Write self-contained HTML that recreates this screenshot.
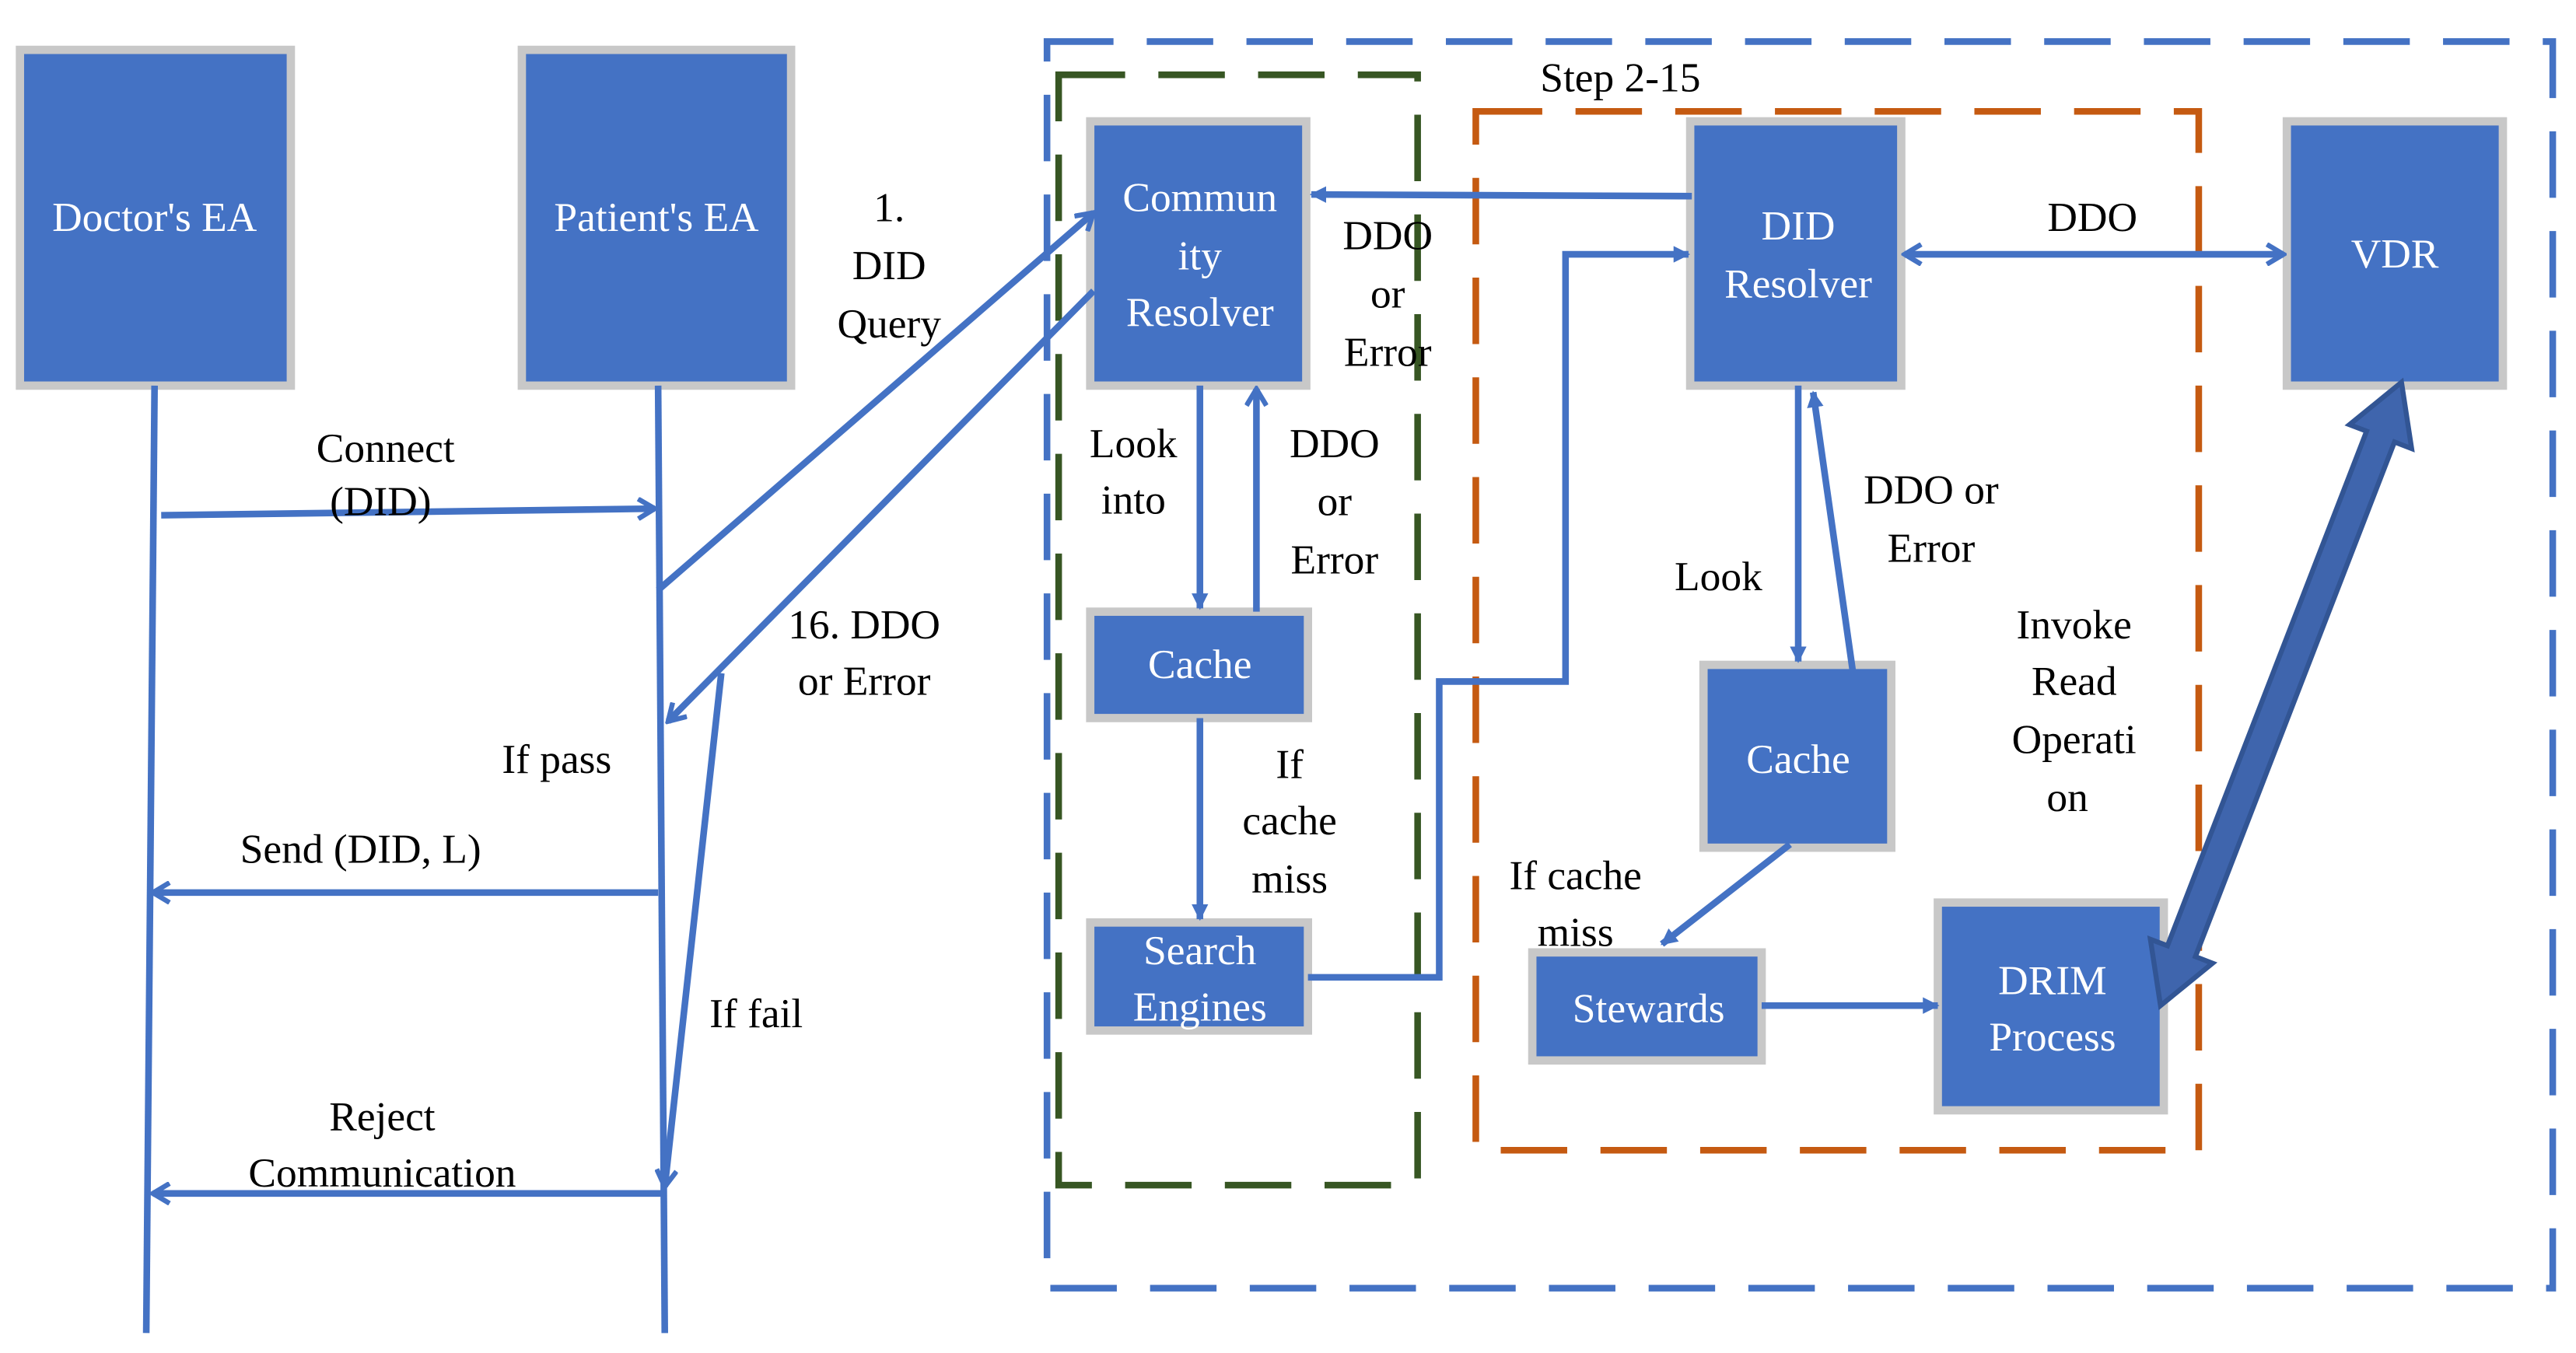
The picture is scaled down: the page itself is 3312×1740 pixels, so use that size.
<!DOCTYPE html>
<html><head><meta charset="utf-8"><style>
html,body{margin:0;padding:0;background:#fff;}
svg{display:block;}
text{font-family:"Liberation Serif","Times New Roman","DejaVu Serif",serif;font-size:25px;}
.w{fill:#fff;text-anchor:middle;}
.k{fill:#000;text-anchor:middle;}
</style></head><body>
<svg width="3312" height="1740" viewBox="0 0 1550 814" preserveAspectRatio="none" xmlns="http://www.w3.org/2000/svg">
<defs>
<marker id="tri" markerWidth="10" markerHeight="10" refX="9" refY="5" orient="auto" markerUnits="userSpaceOnUse" viewBox="0 0 10 10"><path d="M0,0 L10,5 L0,10 z" fill="#4472C4"/></marker>
<marker id="chev" markerWidth="14" markerHeight="14" refX="12" refY="7" orient="auto-start-reverse" markerUnits="userSpaceOnUse" viewBox="0 0 14 14"><path d="M2,1 L12,7 L2,13" fill="none" stroke="#4472C4" stroke-width="3"/></marker>
</defs>
<g stroke-width="4" fill="none" stroke-dasharray="40,20">
<rect x="630" y="25" width="906" height="750" stroke="#4472C4"/>
<rect x="637" y="45" width="216" height="668" stroke="#375623"/>
<rect x="888" y="67" width="435" height="625" stroke="#C55A11"/>
</g>
<g fill="#4472C4" stroke="#C8C8C8" stroke-width="5">
<rect x="12" y="30" width="163" height="202"/>
<rect x="314" y="30" width="162" height="202"/>
<rect x="656" y="73" width="130" height="159"/>
<rect x="656" y="368" width="131" height="64"/>
<rect x="656" y="555" width="131" height="65"/>
<rect x="1017" y="73" width="127" height="159"/>
<rect x="1376" y="73" width="130" height="159"/>
<rect x="1025" y="400" width="113" height="110"/>
<rect x="922" y="573" width="138" height="65"/>
<rect x="1166" y="543" width="136" height="125"/>
</g>
<g stroke="#4472C4" stroke-width="4" fill="none">
<line x1="93" y1="232" x2="88" y2="802"/>
<line x1="396" y1="232" x2="400" y2="802"/>
<line x1="97" y1="310" x2="394" y2="306" marker-end="url(#chev)"/>
<line x1="396" y1="355" x2="658" y2="128" marker-end="url(#chev)"/>
<line x1="658" y1="175" x2="402" y2="434" marker-end="url(#chev)"/>
<line x1="434" y1="405" x2="400" y2="714" marker-end="url(#chev)"/>
<line x1="396" y1="537" x2="92" y2="537" marker-end="url(#chev)"/>
<line x1="400" y1="718" x2="92" y2="718" marker-end="url(#chev)"/>
<line x1="722" y1="232" x2="722" y2="366" marker-end="url(#tri)"/>
<line x1="756" y1="368" x2="756" y2="234" marker-end="url(#chev)"/>
<line x1="722" y1="432" x2="722" y2="553" marker-end="url(#tri)"/>
<polyline points="787,588 866,588 866,410 942,410 942,153 1016,153" marker-end="url(#tri)"/>
<line x1="1018" y1="118" x2="789" y2="117" marker-end="url(#tri)"/>
<line x1="1146" y1="153" x2="1374" y2="153" marker-start="url(#chev)" marker-end="url(#chev)"/>
<line x1="1082" y1="232" x2="1082" y2="398" marker-end="url(#tri)"/>
<line x1="1115" y1="405" x2="1091" y2="236" marker-end="url(#tri)"/>
<line x1="1077" y1="508" x2="1000" y2="568" marker-end="url(#tri)"/>
<line x1="1060" y1="605" x2="1166" y2="605" marker-end="url(#tri)"/>
</g>
<polygon points="1445,230 1451.1,269.9 1440.8,265.9 1321,575.5 1331.3,579.5 1300,605 1293.9,565.1 1304.2,569 1424,259.4 1413.7,255.5" fill="#3F65AD" stroke="#325594" stroke-width="3"/>
<g class="w" font-family="Liberation Serif, serif" font-size="25">
<text x="93" y="139">Doctor's EA</text>
<text x="395" y="139">Patient's EA</text>
<text x="722" y="127">Commun</text>
<text x="722" y="162">ity</text>
<text x="722" y="196">Resolver</text>
<text x="722" y="408">Cache</text>
<text x="722" y="580">Search</text>
<text x="722" y="614">Engines</text>
<text x="1082" y="144">DID</text>
<text x="1082" y="179">Resolver</text>
<text x="1441" y="161">VDR</text>
<text x="1082" y="465">Cache</text>
<text x="992" y="615">Stewards</text>
<text x="1235" y="598">DRIM</text>
<text x="1235" y="632">Process</text>
</g>
<g class="k" font-family="Liberation Serif, serif" font-size="25">
<text x="232" y="278">Connect</text>
<text x="229" y="310">(DID)</text>
<text x="535" y="133">1.</text>
<text x="535" y="168">DID</text>
<text x="535" y="203">Query</text>
<text x="520" y="384">16. DDO</text>
<text x="520" y="418">or Error</text>
<text x="335" y="465">If pass</text>
<text x="217" y="519">Send (DID, L)</text>
<text x="455" y="618">If fail</text>
<text x="230" y="680">Reject</text>
<text x="230" y="714">Communication</text>
<text x="682" y="275">Look</text>
<text x="682" y="309">into</text>
<text x="803" y="275">DDO</text>
<text x="803" y="310">or</text>
<text x="803" y="345">Error</text>
<text x="776" y="468">If</text>
<text x="776" y="502">cache</text>
<text x="776" y="537">miss</text>
<text x="835" y="150">DDO</text>
<text x="835" y="185">or</text>
<text x="835" y="220">Error</text>
<text x="975" y="55">Step 2-15</text>
<text x="1259" y="139">DDO</text>
<text x="1034" y="355">Look</text>
<text x="1162" y="303">DDO or</text>
<text x="1162" y="338">Error</text>
<text x="948" y="535">If cache</text>
<text x="948" y="569">miss</text>
<text x="1248" y="384">Invoke</text>
<text x="1248" y="418">Read</text>
<text x="1248" y="453">Operati</text>
<text x="1244" y="488">on</text>
</g>
</svg>
</body></html>
